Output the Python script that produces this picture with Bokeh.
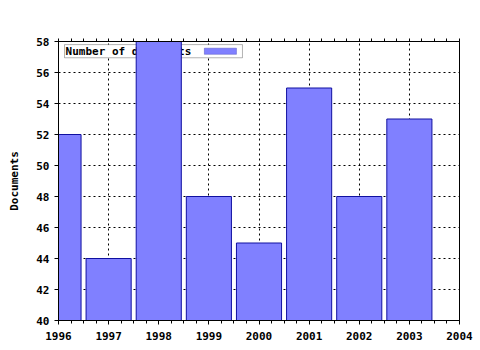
from bokeh.plotting import figure
from bokeh.models import Range1d, FixedTicker, LinearAxis, BoxAnnotation, Label
from bokeh.embed import file_html
from bokeh.resources import INLINE

# Data
years = [1996, 1997, 1998, 1999, 2000, 2001, 2002, 2003]
documents = [52, 44, 58, 48, 45, 55, 48, 53]
x_ticks = [1996, 1997, 1998, 1999, 2000, 2001, 2002, 2003, 2004]
y_ticks = [40, 42, 44, 46, 48, 50, 52, 54, 56, 58]
series_name = "Number of documents"
y_label = "Documents"

FONT = "DejaVu Sans Mono"
FS = "11px"
BAR_FILL = "#8080ff"
BAR_LINE = "#1010a0"

p = figure(width=480, height=350, output_backend="svg", toolbar_location=None,
           x_range=Range1d(x_ticks[0], x_ticks[-1]), y_range=Range1d(y_ticks[0], y_ticks[-1]),
           x_axis_location=None, y_axis_location=None)
p.min_border_left = 58
p.min_border_right = 21
p.min_border_top = 41
p.min_border_bottom = 30
p.background_fill_color = "white"
p.border_fill_color = "white"
p.outline_line_color = "black"
p.outline_line_width = 1

minor = [x_ticks[0] + i * 0.25 for i in range(int((x_ticks[-1] - x_ticks[0]) * 4) + 1)]
xticker = FixedTicker(ticks=x_ticks, minor_ticks=minor)
yticker = FixedTicker(ticks=y_ticks, minor_ticks=[])

def style_axis(ax):
    ax.axis_line_color = "black"
    ax.major_tick_line_color = "black"
    ax.minor_tick_line_color = "black"
    ax.major_label_text_font = FONT
    ax.major_label_text_font_style = "bold"
    ax.major_label_text_font_size = FS
    ax.major_label_text_color = "black"
    ax.axis_label_text_font = FONT
    ax.axis_label_text_font_style = "bold"
    ax.axis_label_text_font_size = FS
    ax.axis_label_text_color = "black"

xb = LinearAxis(ticker=xticker)
style_axis(xb)
xb.major_tick_in = 0
xb.major_tick_out = 4
xb.minor_tick_in = 0
xb.minor_tick_out = 3
xb.major_label_standoff = 7
p.add_layout(xb, "below")

# mirrored ticks on the top border, without labels
xt = LinearAxis(ticker=FixedTicker(ticks=[], minor_ticks=minor))
style_axis(xt)
xt.minor_tick_in = 0
xt.minor_tick_out = 3
xt.major_label_standoff = 0
p.add_layout(xt, "above")

yl = LinearAxis(ticker=yticker, axis_label=y_label)
style_axis(yl)
yl.major_tick_in = 0
yl.major_tick_out = 4
yl.minor_tick_line_color = None
yl.major_label_standoff = 5
yl.axis_label_standoff = 12
p.add_layout(yl, "left")

# grid
p.xgrid.ticker = FixedTicker(ticks=x_ticks)
p.ygrid.ticker = yticker
for g in (p.xgrid, p.ygrid):
    g.grid_line_color = "black"
    g.grid_line_dash = "2 3"
    g.grid_line_width = 1
    g.grid_line_alpha = 1.0

# legend box (drawn under the bars, as in the reference)
leg_box = BoxAnnotation(left=1996.12, right=1999.67, top=57.80, bottom=56.95,
                        fill_color="white", fill_alpha=1.0,
                        line_color="black", line_width=1, level="underlay")
p.add_layout(leg_box)
leg_swatch = BoxAnnotation(left=1998.91, right=1999.55, top=57.57, bottom=57.17,
                           fill_color=BAR_FILL, fill_alpha=1.0,
                           line_color=BAR_LINE, line_width=1, level="underlay")
p.add_layout(leg_swatch)
leg_text = Label(x=1996.14, y=57.37, text=series_name, text_font=FONT,
                 text_font_style="bold", text_font_size=FS, text_color="black",
                 text_baseline="middle", text_align="left", level="underlay")
p.add_layout(leg_text)

p.vbar(x=years, top=documents, bottom=y_ticks[0], width=0.9,
       fill_color=BAR_FILL, line_color=BAR_LINE, line_width=1)

open("out.html", "w").write(file_html(p, INLINE))
